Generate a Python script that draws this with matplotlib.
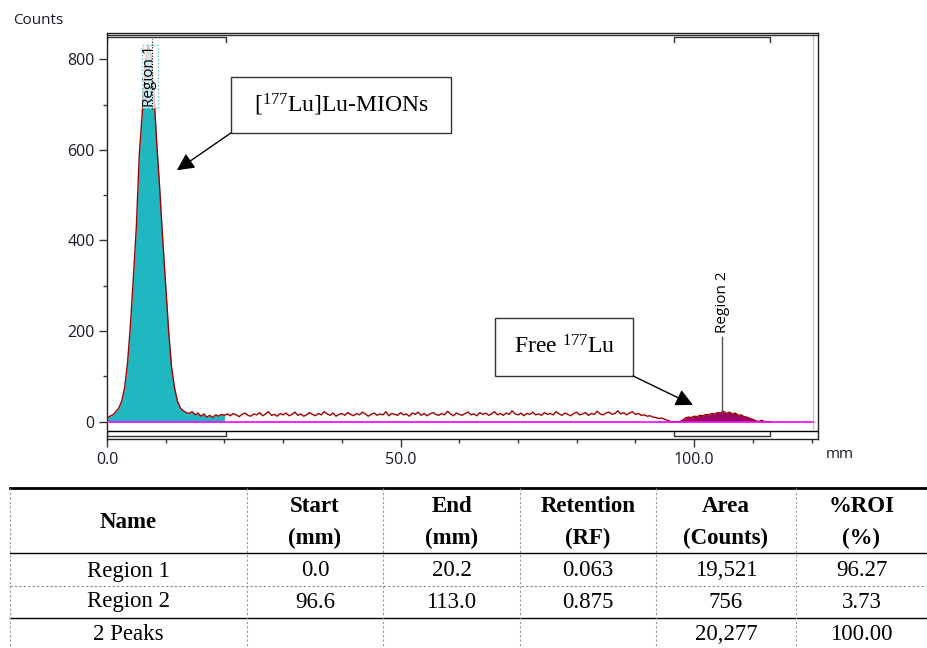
import numpy as np
import matplotlib.pyplot as plt
from matplotlib.patches import Rectangle

plt.rcParams['mathtext.fontset'] = 'custom'
plt.rcParams['mathtext.rm'] = 'Liberation Serif'

# scan position (mm) and counts, one value every 0.5 mm from 0 to 113 mm
pos_mm = np.arange(0, 113.01, 0.5)
counts = [
    8, 12, 15, 22, 30, 45, 75, 130, 215, 320, 430, 590, 680, 790, 830, 810, 720, 610, 510, 400,
    300, 200, 120, 75, 45, 30, 24, 20,
    18, 22, 15, 19, 12, 17, 10, 14, 9, 15, 12, 16, 14,
    17, 13, 18, 15, 11, 16, 19, 14, 12, 17,
    15, 20, 13, 17, 22, 14, 16, 12, 18, 15,
    19, 13, 16, 21, 14, 17, 12, 15, 20, 16,
    13, 18, 15, 22, 17, 14, 19, 12, 16, 18,
    14, 20, 16, 13, 18, 15, 21, 17, 12, 16,
    19, 14, 17, 15, 22, 13, 18, 16, 14, 20,
    15, 17, 12, 19, 16, 21, 14, 18, 13, 17,
    20, 16, 14, 18, 15, 23, 17, 13, 19, 16,
    14, 18, 21, 15, 17, 13, 20, 16, 19, 14,
    17, 22, 15, 18, 14, 19, 16, 24, 17, 15,
    19, 13, 18, 16, 21, 15, 17, 14, 20, 16,
    18, 15, 22, 17, 14, 19, 16, 13, 18, 21,
    15, 17, 20, 14, 18, 16, 23, 17, 15, 19,
    21, 16, 18, 24, 17, 20, 15, 19, 22, 16,
    18, 14, 15, 12, 13, 10,
    9, 7, 8, 5, 3, 0, 0, 0, 0,
    3, 8, 10, 9, 12, 11, 14, 13, 16, 15, 18, 17, 20, 19, 23, 18, 21, 17, 19, 14,
    15, 11, 10, 7, 5, 2, 0, 3, 0, 0, 0,
]
counts = np.array(counts)

# regions of interest (mm)
region_names = ['Region 1', 'Region 2']
region_start = [0.0, 96.6]
region_end = [20.2, 113.0]
region_label_x = [7.3, 104.8]

# table content
col_headers = [['Name'], ['Start', '(mm)'], ['End', '(mm)'], ['Retention', '(RF)'],
               ['Area', '(Counts)'], ['%ROI', '(%)']]
table_rows = [
    ['Region 1', '0.0', '20.2', '0.063', '19,521', '96.27'],
    ['Region 2', '96.6', '113.0', '0.875', '756', '3.73'],
    ['2 Peaks', '', '', '', '20,277', '100.00'],
]

fig = plt.figure(figsize=(9.27, 6.48), dpi=100)

# overlay in pixel units for the table and loose labels
tab = fig.add_axes([0, 0, 1, 1])
tab.set_xlim(0, 927)
tab.set_ylim(648, 0)
tab.axis('off')

serif = 'Liberation Serif'
col_x = [10, 247, 383, 520, 656, 796, 927]
tab.plot([10, 927], [488, 488], color='black', lw=2)
tab.plot([10, 927], [553, 553], color='black', lw=1)
tab.plot([10, 927], [586, 586], color='#888888', lw=0.8, ls=(0, (2, 2)))
tab.plot([10, 927], [618, 618], color='black', lw=1)
for cx in col_x[:-1]:
    tab.plot([cx, cx], [488, 648], color='#999999', lw=0.8, ls=(0, (2, 2)))
for i, head in enumerate(col_headers):
    xc = (col_x[i] + col_x[i + 1]) / 2
    if len(head) == 1:
        tab.text(xc, 522, head[0], ha='center', va='center', family=serif,
                 fontsize=16.5, fontweight='bold')
    else:
        tab.text(xc, 507, head[0], ha='center', va='center', family=serif,
                 fontsize=16.5, fontweight='bold')
        tab.text(xc, 538, head[1], ha='center', va='center', family=serif,
                 fontsize=16.5, fontweight='bold')
row_y = [571, 602, 634]
for r, row in enumerate(table_rows):
    for i, val in enumerate(row):
        xc = (col_x[i] + col_x[i + 1]) / 2
        tab.text(xc, row_y[r], val, ha='center', va='center', family=serif, fontsize=16.5)

sans = 'Open Sans'
txt_col = '#1a1a2e'
tab.text(13, 21, 'Counts', ha='left', va='center', family=sans, fontsize=11, color=txt_col)
tab.text(826, 455, 'mm', ha='left', va='center', family=sans, fontsize=11, color=txt_col)

# main chromatogram axes
ax = fig.add_axes([107 / 927, 1 - 439 / 648, 711 / 927, 406 / 648])
ax.set_xlim(0, 121.1)
ax.set_ylim(-38.3, 858)

in_r1 = pos_mm <= region_end[0]
in_r2 = pos_mm >= region_start[1]
ax.fill_between(pos_mm, 0, counts, where=in_r1, color='#20B8C0', lw=0, zorder=2)
ax.fill_between(pos_mm, 0, counts, where=in_r2, color='#990066', lw=0, zorder=2)
ax.plot(pos_mm, counts, color='#A00000', lw=1, zorder=3)
ax.plot([0, 120.2], [0, 0], color='#FF00FF', lw=1.2, zorder=4)
ax.plot([120.2, 120.2], [-20.5, 858], color='#c8c8c8', lw=1, zorder=1)

# strips with region brackets
ax.axhline(-20.5, color='black', lw=1)
ax.axhline(852.5, color='#333333', lw=1)
for s, e in zip(region_start, region_end):
    ax.plot([s, s, e, e], [-22.7, -31.6, -31.6, -22.7], color='#333333', lw=1)
    ax.plot([s, s, e, e], [838.8, 848.5, 848.5, 838.8], color='#333333', lw=1)

# region labels
ax.plot([7.6, 7.6], [690, 845], color='black', lw=0.8, ls=(0, (1, 1.5)), zorder=6)
ax.text(region_label_x[0], 762, region_names[0], rotation=90, ha='center', va='center',
        family=sans, fontsize=11, color='black', zorder=5,
        bbox=dict(boxstyle='square,pad=0.05', fc='white', alpha=0.75, ec='#20B8C0', ls=':'))
ax.plot([region_label_x[1]] * 2, [23, 187], color='#555555', lw=1, zorder=5)
ax.text(region_label_x[1], 264, region_names[1], rotation=90, ha='center', va='center',
        family=sans, fontsize=11, color='black', zorder=5)

# annotation boxes
ax.add_patch(Rectangle((21.1, 637.3), 37.5, 123.6, fc='white', ec='#333333', lw=1, zorder=6))
ax.text(39.9, 699, r'[$\mathrm{^{177}}$Lu]Lu-MIONs', ha='center', va='center',
        family=serif, fontsize=17, zorder=7)
ax.annotate('', xy=(11.9, 555), xytext=(21.1, 637.3),
            arrowprops=dict(arrowstyle='-|>', color='black', lw=1, mutation_scale=26,
                            shrinkA=0, shrinkB=0), zorder=6)
ax.add_patch(Rectangle((66.1, 100.9), 23.5, 128, fc='white', ec='#333333', lw=1, zorder=6))
ax.text(77.9, 164.5, r'Free $\mathrm{^{177}}$Lu', ha='center', va='center',
        family=serif, fontsize=17, zorder=7)
ax.annotate('', xy=(99.8, 36.9), xytext=(89.6, 100.9),
            arrowprops=dict(arrowstyle='-|>', color='black', lw=1, mutation_scale=26,
                            shrinkA=0, shrinkB=0), zorder=6)

# axes styling
ax.set_xticks([0, 50, 100])
ax.set_xticklabels(['0.0', '50.0', '100.0'])
ax.set_xticks([10, 20, 30, 40, 60, 70, 80, 90, 110, 120], minor=True)
ax.set_yticks([0, 200, 400, 600, 800])
ax.set_yticks([100, 300, 500, 700], minor=True)
ax.tick_params(which='major', length=6, width=1, color='#333333', labelsize=11.5,
               labelcolor=txt_col, pad=3)
ax.tick_params(which='minor', length=3, width=1, color='#333333')
for lab in ax.get_xticklabels() + ax.get_yticklabels():
    lab.set_family(sans)
for sp in ax.spines.values():
    sp.set_color('#222222')
    sp.set_linewidth(1)

fig.savefig('out.png', dpi=100)
